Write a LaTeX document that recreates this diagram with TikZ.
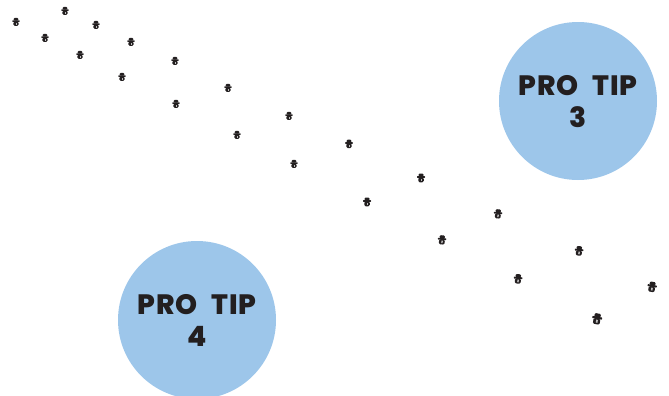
\documentclass[tikz,border=0pt]{standalone}
\usepackage{fontspec}
\setmainfont{Poppins}[BoldFont={Poppins Bold}]
\newfontfamily\tipfont{Poppins ExtraBold}[LetterSpace=4]
\definecolor{tipblue}{HTML}{9DC6EA}
\definecolor{ink}{HTML}{231F20}
\tikzset{
  tipcircle/.style={circle,fill=tipblue,draw=none,minimum size=118.5pt,inner sep=0pt},
  tiplabel/.style={text=ink,align=center,font=\fontsize{21pt}{24pt}\selectfont\tipfont},
  printmark/.pic={
    \fill[ink,rounded corners=0.8] (-2,-3.6) rectangle (2,-1.2);
    \fill[ink,rounded corners=0.4] (-3.2,-1.5) rectangle (3.2,-0.1);
    \fill[ink,rounded corners=1] (-2.2,-0.4) rectangle (2.2,3.4);
    \fill[white!70!ink] (-0.4,0.5) rectangle (0.7,2.4);
  }
}
\begin{document}
\begin{tikzpicture}[x=0.75pt,y=-0.75pt]
\useasboundingbox (0,0) rectangle (669,396);
\node[tipcircle] (tipthree) at (578,101) {};
\node[tipcircle] (tipfour) at (197,320) {};
\node[tiplabel] (labelthree) at (578,101.5) {PRO\hspace{10pt}TIP\\3};
\node[tiplabel] (labelfour) at (197,320.5) {PRO\hspace{10pt}TIP\\4};
\foreach \px/\py/\ps/\pr in {16/22/1.15/0,65/11/1.15/0,45/38/1.15/0,96/25/1.15/0,80/55/1.15/0,131/42/1.15/0,122/77/1.15/0,175/61/1.15/0,176/104/1.15/0,228/88/1.15/0,237/135/1.15/0,289/116/1.15/0,294/164/1.15/0,349/144/1.2/0,367/202/1.25/0,421/178/1.25/0,442/240/1.3/-5,498/214/1.3/-5,518/279/1.35/-5,579/251/1.35/-5,597/319/1.55/-10,652/287/1.45/-10}
  \pic[scale=\ps,rotate=\pr,transform shape] at (\px,\py) {printmark};
\end{tikzpicture}
\end{document}
